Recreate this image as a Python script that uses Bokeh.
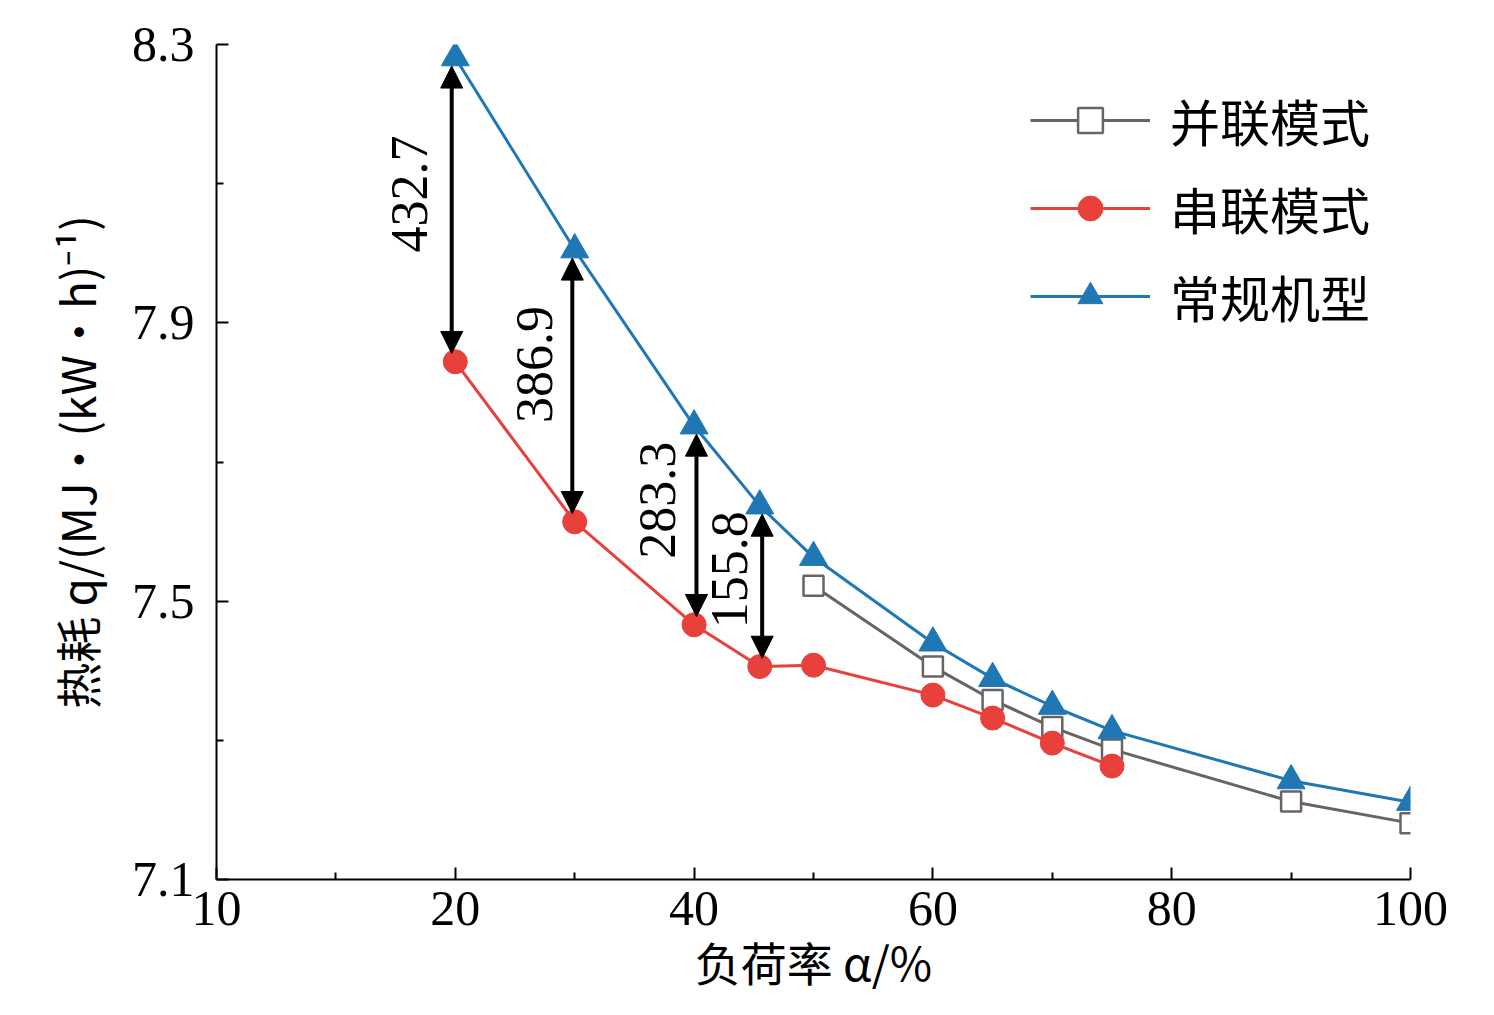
import math
from bokeh.plotting import figure
from bokeh.models import Arrow, NormalHead, Legend, LegendItem, FixedTicker, ColumnDataSource
from bokeh.core.properties import value
from bokeh.embed import file_html
from bokeh.resources import INLINE

x_conv = [20, 30, 40, 45.5, 50, 60, 65, 70, 75, 90, 100]
y_conv = [8.281, 8.005, 7.752, 7.637, 7.563, 7.440, 7.389, 7.349, 7.314, 7.242, 7.211]
x_ser = [20, 30, 40, 45.5, 50, 60, 65, 70, 75]
y_ser = [7.844, 7.614, 7.466, 7.406, 7.408, 7.365, 7.332, 7.296, 7.263]
x_par = [50, 60, 65, 70, 75, 90, 100]
y_par = [7.522, 7.406, 7.358, 7.319, 7.287, 7.212, 7.181]
diff_x = [19.7, 29.8, 40.2, 45.7]
diff_lo = [7.844, 7.614, 7.466, 7.406]
diff_hi = [8.281, 8.005, 7.752, 7.637]
diff_lbl = ["432.7", "386.9", "283.3", "155.8"]
diff_lbl_x = [16.2, 26.6, 36.9, 43.0]
diff_lbl_y = [8.085, 7.84, 7.645, 7.545]
x_ticks = [0, 20, 40, 60, 80, 100]
x_tick_labels = ["10", "20", "40", "60", "80", "100"]
y_ticks = [7.1, 7.5, 7.9, 8.3]

serif = "Liberation Serif"
cjk = "Noto Sans CJK SC"

p = figure(width=1478, height=1000, x_range=(0, 100), y_range=(7.1, 8.3),
           output_backend="svg", toolbar_location=None,
           min_border_left=216, min_border_right=68, min_border_top=44, min_border_bottom=121)
p.outline_line_color = None
p.grid.visible = False
p.background_fill_color = "white"

p.xaxis.ticker = FixedTicker(ticks=x_ticks, minor_ticks=[10, 30, 50, 70, 90])
p.xaxis.major_label_overrides = {t: l for t, l in zip(x_ticks, x_tick_labels)}
p.yaxis.ticker = FixedTicker(ticks=y_ticks, minor_ticks=[7.3, 7.7, 8.1])
p.yaxis.formatter.use_scientific = False
for ax in (p.xaxis, p.yaxis):
    ax.axis_line_width = 2
    ax.axis_line_color = "black"
    ax.major_tick_in = 12
    ax.major_tick_out = 0
    ax.minor_tick_in = 7
    ax.minor_tick_out = 0
    ax.major_tick_line_width = 2
    ax.minor_tick_line_width = 2
    ax.major_label_text_font = serif
    ax.major_label_text_font_size = "50px"
    ax.major_label_text_color = "black"
    ax.axis_label_text_font = cjk
    ax.axis_label_text_font_size = "46px"
    ax.axis_label_text_color = "black"
    ax.axis_label_text_font_style = "normal"
p.xaxis.axis_label = "负荷率 α/%"
p.yaxis.axis_label = "热耗 q/(MJ·(kW·h)⁻¹)"
p.xaxis.major_label_standoff = 12
p.yaxis.major_label_standoff = 22
p.xaxis.axis_label_standoff = 0
p.yaxis.axis_label_standoff = 20

lp = p.line(x_par, y_par, line_color="#6b6360", line_width=3)
sp = p.scatter(x_par, y_par, marker="square", size=20, fill_color="white", line_color="#6b6360", line_width=2.5)
ls = p.line(x_ser, y_ser, line_color="#e8403a", line_width=3)
ss = p.scatter(x_ser, y_ser, marker="circle", size=24, fill_color="#e8403a", line_color="#e8403a")
lc = p.line(x_conv, y_conv, line_color="#1f78b4", line_width=3)
sc = p.scatter(x_conv, y_conv, marker="triangle", size=28, fill_color="#1f78b4", line_color="#1f78b4")

for xa, lo, hi in zip(diff_x, diff_lo, diff_hi):
    p.add_layout(Arrow(start=NormalHead(size=22, fill_color="black", line_color="black"),
                       end=NormalHead(size=22, fill_color="black", line_color="black"),
                       x_start=xa, y_start=lo + 0.012, x_end=xa, y_end=hi - 0.012,
                       line_width=4, line_color="black"))

src = ColumnDataSource(dict(x=diff_lbl_x, y=diff_lbl_y, t=diff_lbl))
p.text("x", "y", text="t", source=src, angle=math.pi / 2, text_align="center",
       text_baseline="middle", text_font=value(serif), text_font_size="52px", text_color="black")

legend = Legend(items=[LegendItem(label="并联模式", renderers=[lp, sp]),
                       LegendItem(label="串联模式", renderers=[ls, ss]),
                       LegendItem(label="常规机型", renderers=[lc, sc])],
                location="top_right", border_line_color=None, background_fill_alpha=0,
                label_text_font=cjk, label_text_font_size="50px", label_text_color="black",
                glyph_width=120, glyph_height=62, spacing=16, label_standoff=20, margin=40)
p.add_layout(legend)

open("out.html", "w").write(file_html(p, INLINE))
